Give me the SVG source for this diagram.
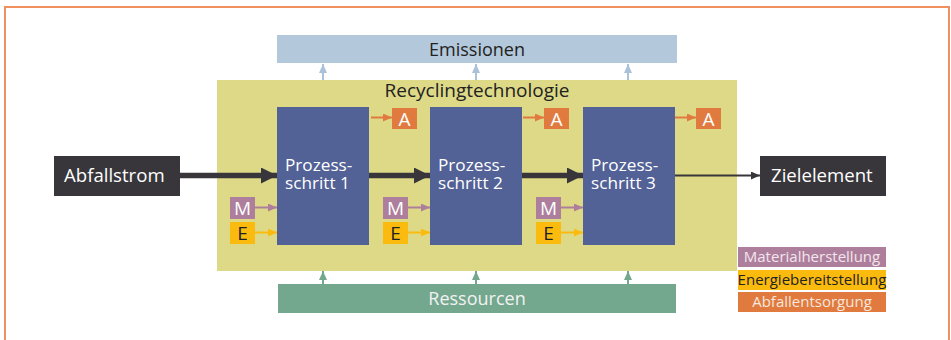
<svg xmlns="http://www.w3.org/2000/svg" width="951" height="340" viewBox="0 0 951 340">
  <style>
    text { font-family: "Open Sans", "Noto Sans", "DejaVu Sans", sans-serif; }
    .lbl { font-size: 18px; text-anchor: middle; }
    .proc { fill: #526196; }
    .proc-t { font-size: 17.2px; fill: #ffffff; }
    .dark { fill: #38363b; }
    .dark-t { font-size: 18.6px; fill: #ffffff; }
    .tag-t { font-size: 19px; text-anchor: middle; }
    .leg-t { font-size: 15px; text-anchor: middle; }
    .flow { stroke: #38363b; stroke-width: 5.5; fill: none; }
  </style>
  <defs>
    <marker id="headBig" markerUnits="userSpaceOnUse" markerWidth="16" markerHeight="16" refX="16" refY="8" orient="auto">
      <path d="M0,0 L16,8 L0,16 Z" fill="#38363b"/>
    </marker>
    <marker id="headThin" markerUnits="userSpaceOnUse" markerWidth="9" markerHeight="8" refX="9" refY="4" orient="auto">
      <path d="M0,0 L9,4 L0,8 Z" fill="#38363b"/>
    </marker>
    <marker id="headBlue" markerUnits="userSpaceOnUse" markerWidth="9" markerHeight="8" refX="9" refY="4" orient="auto">
      <path d="M0,0 L9,4 L0,8 Z" fill="#a9c2da"/>
    </marker>
    <marker id="headGreen" markerUnits="userSpaceOnUse" markerWidth="9" markerHeight="8" refX="9" refY="4" orient="auto">
      <path d="M0,0 L9,4 L0,8 Z" fill="#74a88e"/>
    </marker>
    <marker id="headM" markerUnits="userSpaceOnUse" markerWidth="9" markerHeight="8" refX="9" refY="4" orient="auto">
      <path d="M0,0 L9,4 L0,8 Z" fill="#ad7f9c"/>
    </marker>
    <marker id="headE" markerUnits="userSpaceOnUse" markerWidth="9" markerHeight="8" refX="9" refY="4" orient="auto">
      <path d="M0,0 L9,4 L0,8 Z" fill="#fbba0e"/>
    </marker>
    <marker id="headA" markerUnits="userSpaceOnUse" markerWidth="9" markerHeight="8" refX="9" refY="4" orient="auto">
      <path d="M0,0 L9,4 L0,8 Z" fill="#e07a3f"/>
    </marker>
  </defs>

  <!-- outer frame -->
  <rect x="5" y="7" width="944" height="345" fill="#ffffff" stroke="#f0905f" stroke-width="2"/>

  <!-- technology container -->
  <g id="recyclingtechnologie">
    <rect x="217" y="80" width="520" height="191" fill="#ded987"/>
    <text x="477" y="97" fill="#222222" font-size="19px" text-anchor="middle">Recyclingtechnologie</text>
  </g>

  <g id="emissionen">
    <rect x="277" y="35" width="400" height="28" fill="#b3c8da"/>
    <text class="lbl" x="477" y="56" fill="#222222">Emissionen</text>
  </g>

  <g id="ressourcen">
    <rect x="278" y="284" width="398" height="29" fill="#74a88e"/>
    <text class="lbl" x="477" y="304.5" fill="#f2f2f2">Ressourcen</text>
  </g>

  <g id="abfallstrom">
    <rect class="dark" x="54" y="156" width="126" height="40"/>
    <text class="dark-t" x="64" y="181.5">Abfallstrom</text>
  </g>

  <g id="zielelement">
    <rect class="dark" x="760" y="156" width="126" height="40"/>
    <text class="dark-t" x="771" y="182">Zielelement</text>
  </g>

  <g id="prozess1">
    <rect class="proc" x="277" y="107" width="92" height="138"/>
    <text class="proc-t"><tspan x="285" y="171">Prozess-</tspan><tspan x="285" y="189">schritt 1</tspan></text>
  </g>
  <g id="prozess2">
    <rect class="proc" x="430" y="107" width="92" height="138"/>
    <text class="proc-t"><tspan x="438" y="171">Prozess-</tspan><tspan x="438" y="189">schritt 2</tspan></text>
  </g>
  <g id="prozess3">
    <rect class="proc" x="583" y="107" width="92" height="138"/>
    <text class="proc-t"><tspan x="591" y="171">Prozess-</tspan><tspan x="591" y="189">schritt 3</tspan></text>
  </g>

  <!-- waste disposal tags -->
  <g id="a1">
    <rect x="392" y="108" width="25" height="21" fill="#e07a3f"/>
    <text class="tag-t" x="404.5" y="125.5" fill="#ffffff">A</text>
  </g>
  <g id="a2">
    <rect x="544" y="108" width="25" height="21" fill="#e07a3f"/>
    <text class="tag-t" x="556.5" y="125.5" fill="#ffffff">A</text>
  </g>
  <g id="a3">
    <rect x="696" y="108" width="25" height="21" fill="#e07a3f"/>
    <text class="tag-t" x="708.5" y="125.5" fill="#ffffff">A</text>
  </g>

  <!-- material tags -->
  <g id="m1">
    <rect x="230" y="197" width="25" height="22" fill="#ad7f9c"/>
    <text class="tag-t" x="242.5" y="215" fill="#ffffff">M</text>
  </g>
  <g id="m2">
    <rect x="383" y="197" width="25" height="22" fill="#ad7f9c"/>
    <text class="tag-t" x="395.5" y="215" fill="#ffffff">M</text>
  </g>
  <g id="m3">
    <rect x="536" y="197" width="25" height="22" fill="#ad7f9c"/>
    <text class="tag-t" x="548.5" y="215" fill="#ffffff">M</text>
  </g>

  <!-- energy tags -->
  <g id="e1">
    <rect x="230" y="222" width="25" height="22" fill="#fbba0e"/>
    <text class="tag-t" x="242.5" y="240" fill="#222222">E</text>
  </g>
  <g id="e2">
    <rect x="383" y="222" width="25" height="22" fill="#fbba0e"/>
    <text class="tag-t" x="395.5" y="240" fill="#222222">E</text>
  </g>
  <g id="e3">
    <rect x="536" y="222" width="25" height="22" fill="#fbba0e"/>
    <text class="tag-t" x="548.5" y="240" fill="#222222">E</text>
  </g>

  <!-- legend -->
  <g id="legende-material">
    <rect x="738" y="247" width="148" height="20" fill="#ad7f9c"/>
    <text class="leg-t" x="812" y="262" fill="#f3e6ee">Materialherstellung</text>
  </g>
  <g id="legende-energie">
    <rect x="738" y="270" width="148" height="20" fill="#fbba0e"/>
    <text class="leg-t" x="812" y="285" fill="#222222">Energiebereitstellung</text>
  </g>
  <g id="legende-abfall">
    <rect x="738" y="292" width="148" height="20" fill="#e07a3f"/>
    <text class="leg-t" x="812" y="307" fill="#f7e6dc">Abfallentsorgung</text>
  </g>

  <!-- connectors -->
  <g id="connectors">
    <!-- main material flow -->
    <line class="flow" x1="180" y1="175.5" x2="277" y2="175.5" marker-end="url(#headBig)"/>
    <line class="flow" x1="369" y1="175.5" x2="430" y2="175.5" marker-end="url(#headBig)"/>
    <line class="flow" x1="522" y1="175.5" x2="583" y2="175.5" marker-end="url(#headBig)"/>
    <line x1="675" y1="175.5" x2="760" y2="175.5" stroke="#38363b" stroke-width="2" marker-end="url(#headThin)"/>

    <!-- emissions -->
    <line x1="323" y1="80" x2="323" y2="64" stroke="#a9c2da" stroke-width="2" marker-end="url(#headBlue)"/>
    <line x1="476" y1="80" x2="476" y2="64" stroke="#a9c2da" stroke-width="2" marker-end="url(#headBlue)"/>
    <line x1="628" y1="80" x2="628" y2="64" stroke="#a9c2da" stroke-width="2" marker-end="url(#headBlue)"/>

    <!-- resources -->
    <line x1="323" y1="284" x2="323" y2="271" stroke="#74a88e" stroke-width="2" marker-end="url(#headGreen)"/>
    <line x1="476" y1="284" x2="476" y2="271" stroke="#74a88e" stroke-width="2" marker-end="url(#headGreen)"/>
    <line x1="628" y1="284" x2="628" y2="271" stroke="#74a88e" stroke-width="2" marker-end="url(#headGreen)"/>

    <!-- waste outputs -->
    <line x1="371" y1="117.5" x2="392" y2="117.5" stroke="#e07a3f" stroke-width="2" marker-end="url(#headA)"/>
    <line x1="523" y1="117.5" x2="544" y2="117.5" stroke="#e07a3f" stroke-width="2" marker-end="url(#headA)"/>
    <line x1="675" y1="117.5" x2="696" y2="117.5" stroke="#e07a3f" stroke-width="2" marker-end="url(#headA)"/>

    <!-- material inputs -->
    <line x1="255" y1="207.5" x2="277" y2="207.5" stroke="#ad7f9c" stroke-width="2" marker-end="url(#headM)"/>
    <line x1="408" y1="207.5" x2="430" y2="207.5" stroke="#ad7f9c" stroke-width="2" marker-end="url(#headM)"/>
    <line x1="561" y1="207.5" x2="583" y2="207.5" stroke="#ad7f9c" stroke-width="2" marker-end="url(#headM)"/>

    <!-- energy inputs -->
    <line x1="255" y1="232.5" x2="277" y2="232.5" stroke="#fbba0e" stroke-width="2" marker-end="url(#headE)"/>
    <line x1="408" y1="232.5" x2="430" y2="232.5" stroke="#fbba0e" stroke-width="2" marker-end="url(#headE)"/>
    <line x1="561" y1="232.5" x2="583" y2="232.5" stroke="#fbba0e" stroke-width="2" marker-end="url(#headE)"/>
  </g>
</svg>
